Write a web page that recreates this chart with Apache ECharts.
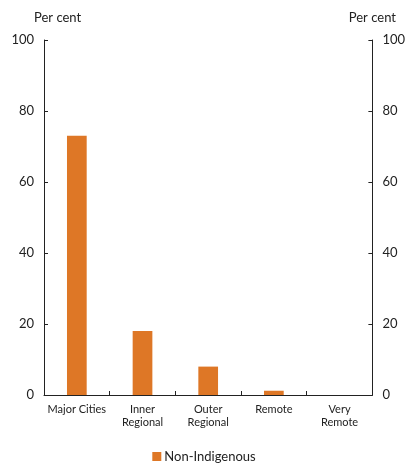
<!DOCTYPE html>
<html><head><meta charset="utf-8">
<script src="https://cdn.jsdelivr.net/npm/echarts@6/dist/echarts.min.js"></script>
<style>html,body{margin:0;padding:0;background:#fff}#c{width:408px;height:464px}</style>
</head><body><div id="c"></div>
<script>
const categories = ['Major Cities', 'Inner\nRegional', 'Outer\nRegional', 'Remote', 'Very\nRemote'];
const nonIndigenous = [73, 18, 8, 1.2, 0];
const yTicks = [0, 20, 40, 60, 80, 100];
const seriesName = 'Non-Indigenous';

const font = 'Lato, "Noto Sans", sans-serif';
const chart = echarts.init(document.getElementById('c'), null, {renderer: 'canvas'});
const axisCommon = {
  type: 'value', min: yTicks[0], max: yTicks[yTicks.length - 1], interval: 20,
  splitLine: {show: false},
  axisLine: {show: true, lineStyle: {color: '#222', width: 1}},
  axisTick: {show: true, inside: true, length: 4, lineStyle: {color: '#222'}},
  axisLabel: {color: '#222', fontSize: 13, fontFamily: font, margin: 10},
  name: 'Per cent', nameGap: 16
};
chart.setOption({
  animation: false,
  textStyle: {fontFamily: font},
  grid: {left: 44, right: 33, top: 40, bottom: 69, containLabel: false},
  legend: {
    top: 450, left: 'center', padding: 0, itemWidth: 9, itemHeight: 9, itemGap: 4,
    icon: 'rect',
    textStyle: {color: '#222', fontSize: 13, fontFamily: font, padding: [0, 0, 0, -2]},
    data: [seriesName]
  },
  xAxis: {
    type: 'category', data: categories,
    axisLine: {lineStyle: {color: '#222'}},
    axisTick: {show: true, inside: true, length: 4, alignWithLabel: false, lineStyle: {color: '#222'}},
    axisLabel: {color: '#222', fontSize: 11, fontFamily: font, margin: 8, lineHeight: 13, interval: 0}
  },
  yAxis: [
    Object.assign({}, axisCommon, {position: 'left', nameLocation: 'end',
      nameTextStyle: {color: '#222', fontSize: 13, fontFamily: font, align: 'left', padding: [0, 0, 0, -10]}}),
    Object.assign({}, axisCommon, {position: 'right', nameLocation: 'end',
      nameTextStyle: {color: '#222', fontSize: 13, fontFamily: font, align: 'center', padding: [0, 0, 0, 0]}})
  ],
  series: [{
    name: seriesName, type: 'bar', data: nonIndigenous, barWidth: '30%',
    itemStyle: {color: '#DE7726'}
  }]
});
</script></body></html>
